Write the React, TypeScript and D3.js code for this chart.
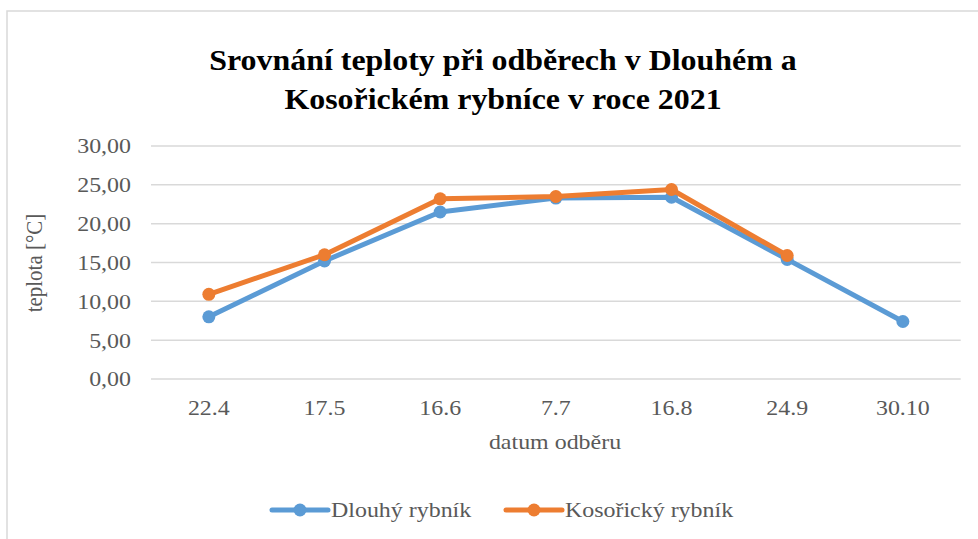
import React from "react";
import * as d3 from "d3";

const dates = ["22.4", "17.5", "16.6", "7.7", "16.8", "24.9", "30.10"];
const dlouhy = [8.0, 15.2, 21.5, 23.3, 23.4, 15.4, 7.4];
const kosoricky = [10.9, 16.0, 23.2, 23.5, 24.4, 15.9, null];
const yTicks = [0, 5, 10, 15, 20, 25, 30];
const seriesNames = ["Dlouhý rybník", "Kosořický rybník"];
const colors = ["#5B9BD5", "#ED7D31"];

const FONT = "Liberation Serif";
const TEXT = "#595959";
const GRID = "#D9D9D9";
const SX = 1.14; // text in the original is a bit wider than tall

type Pt = { d: string; v: number };

// text stretched horizontally around its anchor point
function SText(props: {
  x: number;
  y: number;
  size: number;
  anchor?: string;
  bold?: boolean;
  fill?: string;
  dy?: string;
  sx?: number;
  children: React.ReactNode;
}) {
  return (
    <g transform={`translate(${props.x},${props.y}) scale(${props.sx || SX},1)`}>
      <text
        x={0}
        y={0}
        dy={props.dy}
        textAnchor={props.anchor || "start"}
        fontFamily={FONT}
        fontWeight={props.bold ? "bold" : "normal"}
        fontSize={props.size}
        fill={props.fill || TEXT}
      >
        {props.children}
      </text>
    </g>
  );
}

function App() {
  const x = d3.scaleBand().domain(dates).range([151, 960.7]);
  const y = d3.scaleLinear().domain([0, 30]).range([379, 146]);
  const cx = (d: string) => x(d)! + x.bandwidth() / 2;
  const fmt = (v: number) => d3.format(".2f")(v).replace(".", ",");

  const line = d3
    .line<Pt>()
    .x((p) => cx(p.d))
    .y((p) => y(p.v));

  const series = [dlouhy, kosoricky].map((vals) =>
    vals
      .map((v, j) => ({ d: dates[j], v }))
      .filter((p) => p.v !== null) as Pt[]
  );

  const legendX = [272, 506];

  return (
    <svg width={978} height={539} style={{ position: "absolute", left: 0, top: 0, display: "block" }}>
      {/* ramecek */}
      <rect x={7} y={11} width={1000} height={600} fill="white" stroke={GRID} strokeWidth={1.5} />

      <SText x={503} y={70} size={30} sx={1.064} anchor="middle" bold fill="#000">
        Srovnání teploty při odběrech v Dlouhém a
      </SText>
      <SText x={503} y={109} size={30} sx={1.064} anchor="middle" bold fill="#000">
        Kosořickém rybníce v roce 2021
      </SText>

      {yTicks.map((t) => (
        <g key={t}>
          <line x1={151} x2={960.7} y1={y(t)} y2={y(t)} stroke={GRID} strokeWidth={1.5} />
          <SText x={131} y={y(t)} dy="0.35em" size={21} anchor="end">
            {fmt(t)}
          </SText>
        </g>
      ))}

      {dates.map((d) => (
        <SText key={d} x={cx(d)} y={415} size={21} anchor="middle">
          {d}
        </SText>
      ))}

      <SText x={555} y={449} size={21} anchor="middle">
        datum odběru
      </SText>
      <g transform="translate(42,263) rotate(-90) scale(1,1.14)">
        <text x={0} y={0} textAnchor="middle" fontFamily={FONT} fontSize={21} fill={TEXT}>
          teplota [°C]
        </text>
      </g>

      {series.map((pts, i) => (
        <g key={i}>
          <path
            d={line(pts) || ""}
            fill="none"
            stroke={colors[i]}
            strokeWidth={5}
            strokeLinejoin="round"
            strokeLinecap="round"
          />
          {pts.map((p) => (
            <circle key={p.d} cx={cx(p.d)} cy={y(p.v)} r={6.5} fill={colors[i]} />
          ))}
        </g>
      ))}

      {seriesNames.map((name, i) => (
        <g key={name}>
          <line
            x1={legendX[i]}
            x2={legendX[i] + 56}
            y1={510}
            y2={510}
            stroke={colors[i]}
            strokeWidth={5}
            strokeLinecap="round"
          />
          <circle cx={legendX[i] + 28} cy={510} r={6.5} fill={colors[i]} />
          <SText x={legendX[i] + 59} y={510} dy="0.35em" size={21}>
            {name}
          </SText>
        </g>
      ))}
    </svg>
  );
}

export default App;
